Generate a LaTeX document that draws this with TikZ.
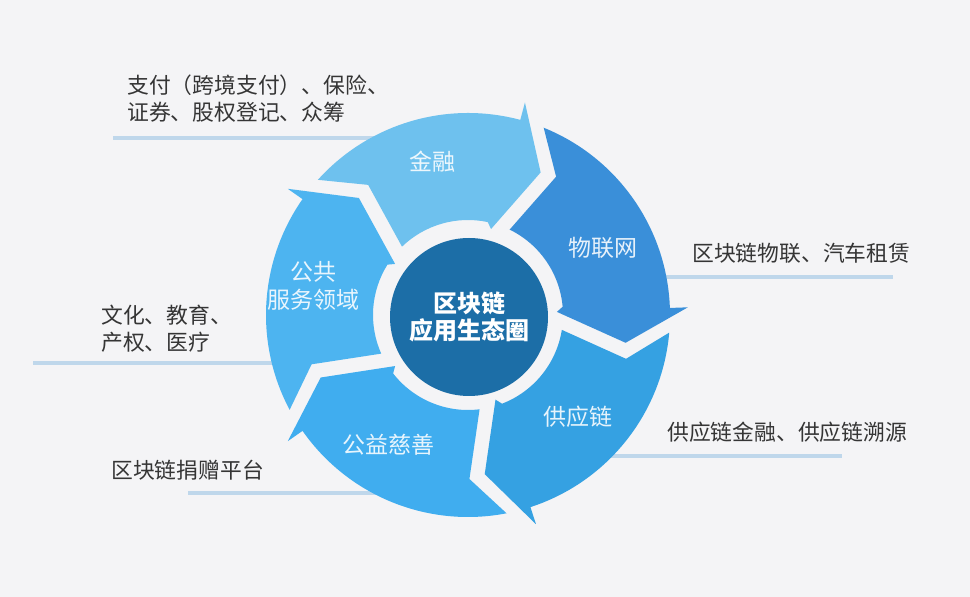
\documentclass[tikz,border=0pt]{standalone}
\usepackage{fontspec}
\newfontfamily\cjk{Noto Sans CJK SC}
\definecolor{bg}{HTML}{F4F4F6}
\definecolor{cA}{HTML}{6EC1EE}
\definecolor{cB}{HTML}{3A8FD9}
\definecolor{cC}{HTML}{35A1E2}
\definecolor{cD}{HTML}{40ADEF}
\definecolor{cE}{HTML}{4DB4F0}
\definecolor{hubc}{HTML}{1C6EA7}
\definecolor{ulc}{HTML}{BFD7EB}
\definecolor{txtc}{HTML}{353535}
\newcommand{\segarrow}[3]{%
  \fill[#3] ({#1-7}:202pt) arc[start angle={#1-7}, end angle={#2}, radius=202pt]
    -- ({#2}:220pt) -- ({#2-12}:160pt) -- ({#2}:89pt) -- ({#2+3}:95pt)
    arc[start angle={#2+3}, end angle={#1-11}, radius=95pt]
    -- ({#1-17.5}:164pt) -- cycle;}
\tikzset{
  uline/.style={draw=ulc, line width=3.5pt},
  outtext/.style={text=txtc, font=\cjk\fontsize{21.8}{27}\selectfont, inner sep=0pt, anchor=west, align=left},
  seglabel/.style={text=white, text opacity=0.88, font=\cjk\fontsize{23}{28}\selectfont, inner sep=0pt, align=center},
  hubnode/.style={circle, fill=hubc, minimum size=158pt, inner sep=0pt, text=white, font=\cjk\bfseries\fontsize{24}{27}\selectfont, align=center}
}
\begin{document}
\begin{tikzpicture}[x=1pt,y=1pt]
\useasboundingbox (0,0) rectangle (970,597);
\fill[bg] (0,0) rectangle (970,597);
% underlines
\coordinate (l1a) at (113,459); \coordinate (l1b) at (380,459);
\coordinate (l2a) at (33,234);  \coordinate (l2b) at (285,234);
\coordinate (l3a) at (188,104); \coordinate (l3b) at (385,104);
\coordinate (r1a) at (655,320); \coordinate (r1b) at (893,320);
\coordinate (r2a) at (600,141); \coordinate (r2b) at (842,141);
\draw[uline] (l1a) -- (l1b);
\draw[uline] (l2a) -- (l2b);
\draw[uline] (l3a) -- (l3b);
\draw[uline] (r1a) -- (r1b);
\draw[uline] (r2a) -- (r2b);
% ring of arrows
\begin{scope}[shift={(468,282)}]
  \segarrow{145}{75}{cA}
  \segarrow{75}{2}{cB}
  \segarrow{2}{-72}{cC}
  \segarrow{-72}{-145}{cD}
  \segarrow{215}{145}{cE}
\end{scope}
% hub
\node[hubnode] (hub) at (469,280) {区块链\\应用生态圈};
% segment labels
\node[seglabel] (jr) at (432,435) {金融};
\node[seglabel] (wlw) at (603,349) {物联网};
\node[seglabel] (gyl) at (578,180) {供应链};
\node[seglabel] (gycs) at (388,152) {公益慈善};
\node[seglabel] (ggfw) at (313,311) {公共\\服务领域};
% outer texts
\node[outtext] (t1) at (127,498.5) {支付（跨境支付）、保险、\\证券、股权登记、众筹};
\node[outtext] (t2) at (101,268.5) {文化、教育、\\产权、医疗};
\node[outtext] (t3) at (111,127) {区块链捐赠平台};
\node[outtext] (t4) at (692,344) {区块链物联、汽车租赁};
\node[outtext] (t5) at (667,165) {供应链金融、供应链溯源};
\end{tikzpicture}
\end{document}
